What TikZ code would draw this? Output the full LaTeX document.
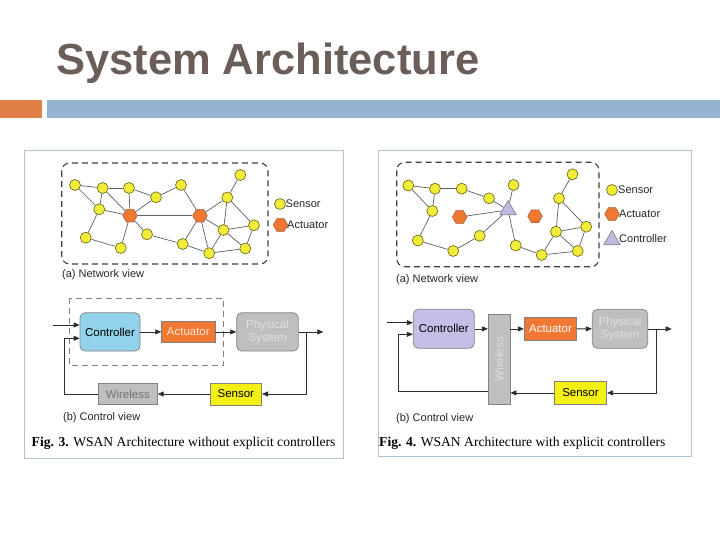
\documentclass[tikz,border=0pt]{standalone}
\usepackage{fontspec}
\setmainfont{Liberation Sans}
\newfontfamily\capserif{Liberation Serif}
\usetikzlibrary{shapes.geometric,arrows.meta}
\definecolor{titlec}{RGB}{107,93,88}
\definecolor{orangebar}{RGB}{224,128,72}
\definecolor{bluebar}{RGB}{149,179,208}
\definecolor{panelc}{RGB}{175,195,210}
\definecolor{sensf}{RGB}{240,236,55}
\definecolor{senso}{RGB}{100,95,25}
\definecolor{actf}{RGB}{240,120,50}
\definecolor{acto}{RGB}{175,95,55}
\definecolor{ctrlf}{RGB}{190,185,225}
\definecolor{edgec}{RGB}{95,95,95}
\definecolor{cblue}{RGB}{146,210,234}
\definecolor{clav}{RGB}{199,190,232}
\definecolor{bgray}{RGB}{191,191,191}
\definecolor{bborder}{RGB}{130,130,130}
\definecolor{byellow}{RGB}{245,240,20}
\definecolor{linec}{RGB}{45,45,45}
\tikzset{
  sens/.style={circle,draw=senso,fill=sensf,line width=0.6pt,minimum size=11pt,inner sep=0pt},
  actn/.style={regular polygon,regular polygon sides=6,draw=acto,fill=actf,line width=0.6pt,minimum size=14.5pt,inner sep=0pt},
  ctrln/.style={regular polygon,regular polygon sides=3,draw=gray,fill=ctrlf,line width=0.6pt,minimum size=19pt,inner sep=0pt},
  nedge/.style={draw=edgec,line width=0.7pt},
  netbox/.style={draw=black!75,line width=1.1pt,dash pattern=on 6pt off 4pt,rounded corners=8pt},
  legtext/.style={anchor=west,inner sep=0pt,font=\fontsize{11}{13}\selectfont,text=black!85},
  captext/.style={anchor=west,inner sep=0pt,font=\fontsize{11}{13}\selectfont,text=black!85},
  figcap/.style={anchor=west,inner sep=0pt,font=\capserif\fontsize{13.6}{16}\selectfont},
  blk/.style={draw=bborder,line width=0.7pt,inner sep=0pt,align=center,font=\fontsize{11.5}{13.5}\selectfont},
  conn/.style={draw=linec,line width=0.8pt},
  arr/.style={conn,-{Triangle[length=6pt,width=5pt]}},
}
\begin{document}
\begin{tikzpicture}[x=1pt,y=-1pt]
\useasboundingbox (0,0) rectangle (720,540);
\fill[white] (0,0) rectangle (720,540);
% title and bars
\node[anchor=base west,inner sep=0pt,font=\bfseries\fontsize{43.5}{48}\selectfont,text=titlec] (title) at (56,75) {System Architecture};
\fill[orangebar] (0,100) rectangle (42,118);
\fill[bluebar] (47,100) rectangle (720,118);
% panels
\draw[panelc,line width=0.8pt] (24,150) rectangle (343,458);
\draw[panelc,line width=0.8pt] (378,150) rectangle (691,456);

% ===== Left network view =====
\draw[netbox] (61.7,163) rectangle (268,264);
\node[sens] (L1) at (75,185) {};
\node[sens] (L2) at (102.7,188) {};
\node[sens] (L3) at (129,188) {};
\node[sens] (L4) at (156,197.3) {};
\node[sens] (L5) at (181,185) {};
\node[sens] (L6) at (240.3,175) {};
\node[sens] (L7) at (227.3,197.5) {};
\node[sens] (L8) at (99.3,209.3) {};
\node[actn] (L9) at (130,215.7) {};
\node[actn] (L10) at (200,215.7) {};
\node[sens] (L11) at (254,225.3) {};
\node[sens] (L12) at (223.5,230) {};
\node[sens] (L13) at (85.8,237.7) {};
\node[sens] (L14) at (147,234.3) {};
\node[sens] (L15) at (182.7,244) {};
\node[sens] (L16) at (120.8,248) {};
\node[sens] (L17) at (209.2,253.2) {};
\node[sens] (L18) at (245.3,248.5) {};
\foreach \a/\b in {L1/L2,L2/L3,L1/L8,L2/L8,L2/L9,L3/L9,L3/L4,L4/L9,L8/L9,L8/L13,L13/L16,L16/L9,L9/L14,L9/L10,L14/L15,L4/L5,L5/L10,L6/L7,L7/L10,L7/L12,L7/L11,L10/L12,L10/L17,L10/L15,L12/L11,L12/L17,L12/L18,L11/L18,L17/L18,L15/L17}
  \draw[nedge] (\a) -- (\b);
\node[sens] (lgS) at (280,204) {};
\node[legtext] (lgSt) at (285.5,204) {Sensor};
\node[actn] (lgA) at (280.5,225) {};
\node[legtext] (lgAt) at (287,225) {Actuator};
\node[captext] (capaL) at (62,275) {(a) Network view};

% ===== Left control view =====
\draw[draw=black!50,line width=0.8pt,dash pattern=on 6pt off 4pt] (69.3,298.3) rectangle (223.3,365.7);
\node[blk,fill=cblue,rounded corners=5pt,minimum width=60pt,minimum height=38.3pt] (ctrlL) at (110,331.9) {Controller};
\node[blk,fill=actf,minimum width=53.3pt,minimum height=21.7pt,text=white!85!orange] (actL) at (188.3,331.9) {Actuator};
\node[blk,fill=bgray,rounded corners=5pt,minimum width=61.7pt,minimum height=38.3pt,text=white!88!black] (physL) at (267.5,331.9) {Physical\\System};
\node[blk,fill=byellow,minimum width=51.7pt,minimum height=21.7pt] (sensL) at (235.8,394) {Sensor};
\node[blk,fill=bgray,minimum width=59pt,minimum height=21.6pt,text=black!55] (wlL) at (127.8,394) {Wireless};
\coordinate (inL) at (53.3,325);
\coordinate (fbL) at (64.3,338.3);
\coordinate (outL) at (323.3,331.9);
\coordinate (brL) at (306.7,331.9);
\draw[arr] (inL) -- (inL -| ctrlL.west);
\draw[arr] (wlL.west) -| (fbL) -- (fbL -| ctrlL.west);
\draw[arr] (ctrlL) -- (actL);
\draw[arr] (actL) -- (physL);
\draw[arr] (physL.east) -- (outL);
\draw[arr] (brL) |- (sensL.east);
\draw[arr] (sensL) -- (wlL);
\node[captext] (capbL) at (63,418) {(b) Control view};
\node[figcap] (figL) at (31.5,443) {\textbf{Fig. 3.} WSAN Architecture without explicit controllers};

% ===== Right network view =====
\draw[netbox] (396.7,162.3) rectangle (599,266.7);
\node[sens] (Ra) at (408.3,185.5) {};
\node[sens] (Rb) at (435,188.7) {};
\node[sens] (Rc) at (461.7,188.7) {};
\node[sens] (Rd) at (489,198.3) {};
\node[sens] (Re) at (513.5,185) {};
\node[sens] (Rf) at (572.5,174.3) {};
\node[sens] (Rg) at (559,198.3) {};
\node[sens] (Rh) at (432.3,211) {};
\node[actn] (RA1) at (459.7,217) {};
\node[ctrln] (RC) at (508,210) {};
\node[actn] (RA2) at (535,216.2) {};
\node[sens] (Ri) at (586.2,226.7) {};
\node[sens] (Rj) at (556,231.7) {};
\node[sens] (Rk) at (417.8,240.5) {};
\node[sens] (Rl) at (479.7,235.8) {};
\node[sens] (Rm) at (453.3,251) {};
\node[sens] (Rn) at (515.8,245.5) {};
\node[sens] (Ro) at (541.7,255) {};
\node[sens] (Rp) at (577.7,251) {};
\foreach \a/\b in {Ra/Rb,Ra/Rh,Rb/Rc,Rb/Rh,Rc/Rd,Rd/RC,Re/RC,Rh/Rk,Rk/Rm,Rm/Rl,Rl/RC,RA1/RC,RC/Rn,Rn/Ro,Ro/Rj,Ro/Rp,Rj/Rg,Rg/Rf,Rg/Ri,Rj/Ri,Rj/Rp,Ri/Rp}
  \draw[nedge] (\a) -- (\b);
\node[sens] (rlgS) at (612,190) {};
\node[legtext] (rlgSt) at (618,190) {Sensor};
\node[actn] (rlgA) at (612,214) {};
\node[legtext] (rlgAt) at (619,214) {Actuator};
\node[ctrln] (rlgC) at (612,240) {};
\node[legtext] (rlgCt) at (619,239) {Controller};
\node[captext] (capaR) at (396,280) {(a) Network view};

% ===== Right control view =====
\node[blk,fill=clav,rounded corners=5pt,minimum width=61pt,minimum height=39pt] (ctrlR) at (443.8,328.8) {Controller};
\node[blk,fill=bgray,minimum width=21.7pt,minimum height=89.7pt] (wlR) at (499.2,359.2) {};
\node[rotate=90,inner sep=0pt,font=\fontsize{11.5}{13.5}\selectfont,text=white!88!black] (wlRt) at (wlR.center) {Wireless};
\node[blk,fill=actf,minimum width=52.4pt,minimum height=22.3pt,text=white] (actR) at (550.5,328.9) {Actuator};
\node[blk,fill=bgray,rounded corners=5pt,minimum width=55.4pt,minimum height=39pt,text=white!88!black] (physR) at (620,328.8) {Physical\\System};
\node[blk,fill=byellow,minimum width=52.4pt,minimum height=22.3pt] (sensR) at (580.5,392.9) {Sensor};
\coordinate (inR) at (386.7,322.7);
\coordinate (fbR) at (398.3,334.3);
\coordinate (fbRb) at (498,391.7);
\coordinate (outR) at (671.7,328.9);
\coordinate (brR) at (656.7,328.9);
\draw[arr] (inR) -- (inR -| ctrlR.west);
\draw[arr] (wlR.west |- fbRb) -| (fbR) -- (fbR -| ctrlR.west);
\draw[arr] (ctrlR.east |- actR.west) -- (wlR.west |- actR.west);
\draw[arr] (wlR.east |- actR.west) -- (actR.west);
\draw[arr] (actR) -- (physR);
\draw[arr] (physR.east |- outR) -- (outR);
\draw[arr] (brR) |- (sensR.east);
\draw[arr] (sensR.west) -- (wlR.east |- sensR.west);
\node[captext] (capbR) at (396,419) {(b) Control view};
\node[figcap] (figR) at (379,443) {\textbf{Fig. 4.} WSAN Architecture with explicit controllers};
\end{tikzpicture}
\end{document}
